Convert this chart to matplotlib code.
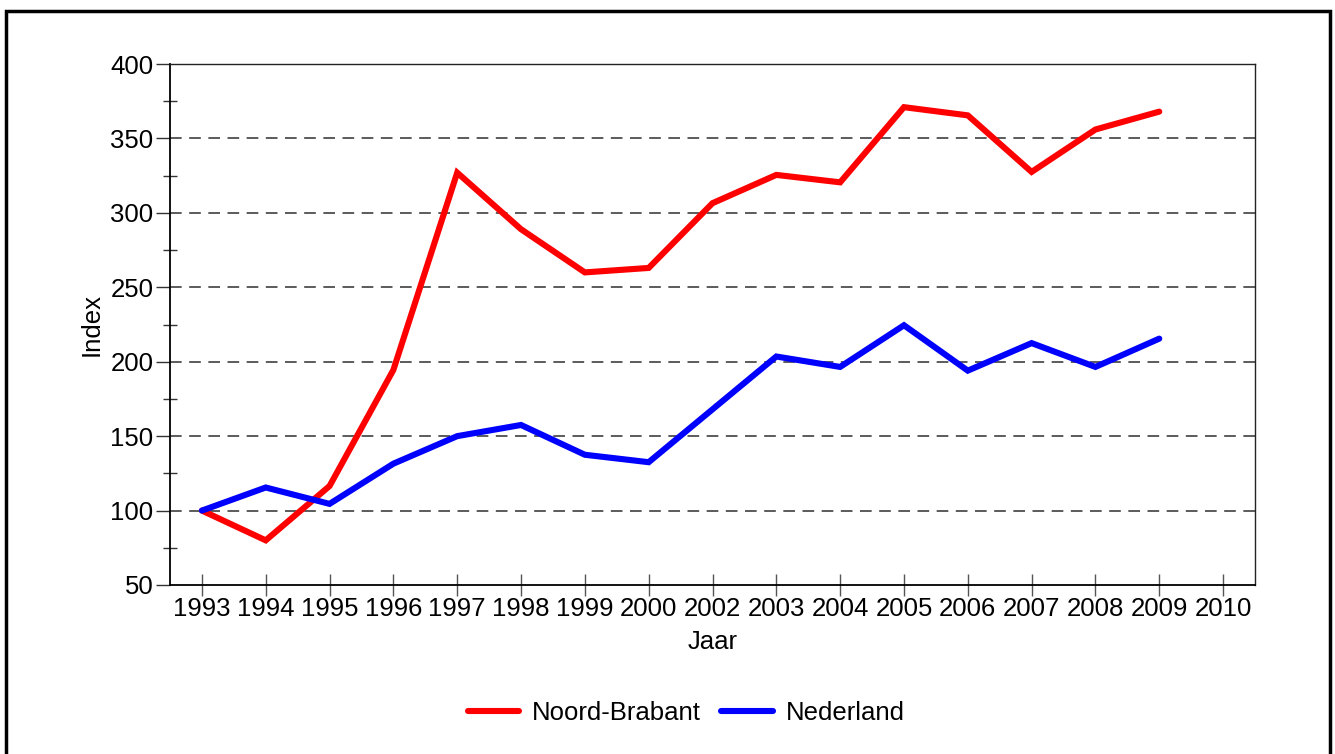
import matplotlib
matplotlib.use("Agg")
import matplotlib.pyplot as plt
from matplotlib.patches import Rectangle
from matplotlib.ticker import MultipleLocator

plt.rcParams['font.family'] = ['Liberation Sans', 'DejaVu Sans']

years = ["1993", "1994", "1995", "1996", "1997", "1998", "1999", "2000",
         "2002", "2003", "2004", "2005", "2006", "2007", "2008", "2009", "2010"]
noord_brabant = [100, 80, 116.5, 194.5, 327, 289, 260, 263,
                 306.5, 325.5, 320.5, 371, 365.5, 327.5, 356, 368]
nederland = [100, 115.5, 104.5, 131.5, 150, 157.5, 137.5, 132.5,
             168, 203.5, 196.5, 224.5, 194, 212.5, 196.5, 215.5]
grid_levels = [100, 150, 200, 250, 300, 350]

FS = 18.5

fig = plt.figure(figsize=(13.35, 7.54), dpi=100)
ax = fig.add_axes([170 / 1335, 1 - 585 / 754, (1255 - 170) / 1335, (585 - 64) / 754])

x_nb = list(range(len(noord_brabant)))
x_nl = list(range(len(nederland)))
ax.plot(x_nb, noord_brabant, color="#ff0000", lw=4.4, label="Noord-Brabant",
        solid_joinstyle="miter", solid_capstyle="round", zorder=3)
ax.plot(x_nl, nederland, color="#0000ff", lw=4.4, label="Nederland",
        solid_joinstyle="miter", solid_capstyle="round", zorder=3)

for g in grid_levels:
    ax.axhline(g, color="#404040", lw=1.2, dashes=(7, 4.5), zorder=1)

ax.set_xlim(-0.5, len(years) - 0.5)
ax.set_ylim(50, 400)
ax.set_xticks(range(len(years)))
ax.set_xticklabels(years)
ax.yaxis.set_major_locator(MultipleLocator(50))
ax.yaxis.set_minor_locator(MultipleLocator(25))

ax.tick_params(axis="x", direction="inout", length=16, width=1, color="#555555",
               labelsize=FS, pad=1)
ax.tick_params(axis="y", which="major", direction="out", length=10, width=1,
               color="#333333", labelsize=FS, pad=2)
ax.tick_params(axis="y", which="minor", direction="inout", length=10, width=1,
               color="#333333")

for side in ["left", "bottom"]:
    ax.spines[side].set_color("black")
    ax.spines[side].set_linewidth(1.3)
for side in ["top", "right"]:
    ax.spines[side].set_color("#222222")
    ax.spines[side].set_linewidth(1.0)

ax.set_xlabel("Jaar", fontsize=FS, labelpad=6)
ax.set_ylabel("Index", fontsize=FS, labelpad=5)

fig.legend(loc="center", bbox_to_anchor=(686 / 1335, 1 - 713 / 754), ncol=2,
           frameon=False, fontsize=FS, handlelength=2.0, handletextpad=0.5,
           columnspacing=0.8)

border = Rectangle((6 / 1335, -0.05), (1329.5 - 6) / 1335, 1.05 - 10.5 / 754,
                   transform=fig.transFigure, fill=False, edgecolor="black",
                   lw=2.5, zorder=10)
fig.patches.append(border)

fig.savefig("out.png", dpi=100, facecolor="white")
